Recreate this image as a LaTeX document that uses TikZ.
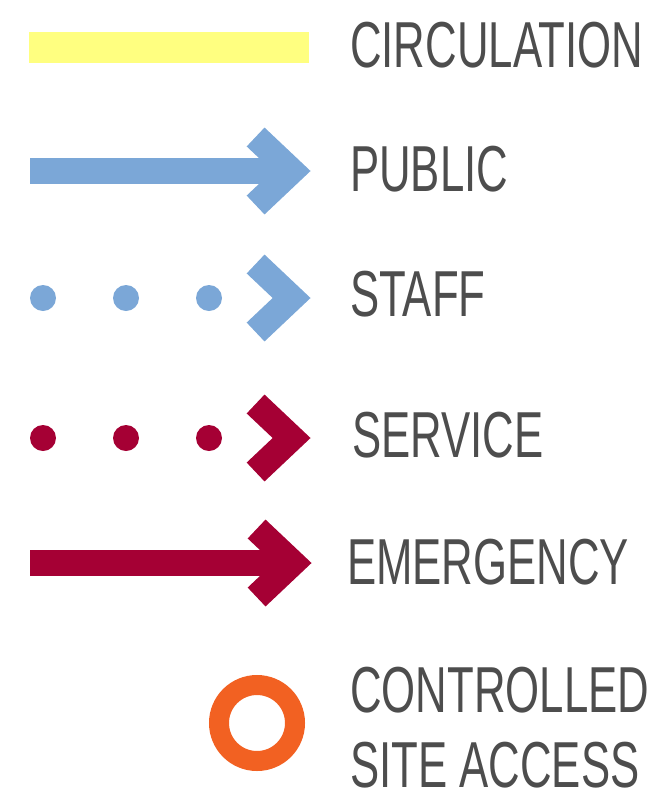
\documentclass[tikz,border=0pt]{standalone}
\usepackage{fontspec}
\setmainfont{Liberation Sans}[FakeStretch=0.673]
\definecolor{pubblue}{RGB}{123,167,215}
\definecolor{servred}{RGB}{165,0,52}
\definecolor{circyellow}{RGB}{255,255,128}
\definecolor{accessorange}{RGB}{242,97,34}
\definecolor{labelgray}{RGB}{77,77,77}

\begin{document}
\begin{tikzpicture}[x=1pt, y=-1pt,
    legendtext/.style={anchor=base west, inner sep=0pt, text=labelgray,
        font=\fontsize{65}{65}\selectfont},
    shaft/.style={line width=26pt},
    chevron/.style={line width=26pt, line join=miter, miter limit=10},
    dot/.style={radius=13pt}]

    % Marco
    \useasboundingbox (0,0) rectangle (661,804);

    % Circulacion
    \coordinate (circstart) at (29,47.5);
    \coordinate (circend) at (309,47.5);
    \draw[circyellow, line width=31.5pt] (circstart) -- (circend);
    \node[legendtext] (circlabel) at (350,67) {CIRCULATION};

    % Publico
    \coordinate (pubstart) at (30,171);
    \coordinate (pubtip) at (291.6,171);
    \draw[shaft, pubblue] (pubstart) -- ([xshift=-10pt]pubtip);
    \draw[chevron, pubblue] ([shift={(-36,-34)}]pubtip) -- (pubtip) -- ([shift={(-36,34)}]pubtip);
    \node[legendtext] (publabel) at (350,191) {PUBLIC};

    % Personal
    \coordinate (stafftip) at (291.6,298);
    \foreach \x in {43, 126, 209} {
        \fill[pubblue] (\x,298) circle[dot];
    }
    \draw[chevron, pubblue] ([shift={(-36,-34)}]stafftip) -- (stafftip) -- ([shift={(-36,34)}]stafftip);
    \node[legendtext] (stafflabel) at (350,316) {STAFF};

    % Servicio
    \coordinate (servtip) at (291.6,438);
    \foreach \x in {43, 126, 209} {
        \fill[servred] (\x,438) circle[dot];
    }
    \draw[chevron, servred] ([shift={(-36,-34)}]servtip) -- (servtip) -- ([shift={(-36,34)}]servtip);
    \node[legendtext] (servlabel) at (352,457) {SERVICE};

    % Emergencia
    \coordinate (emerstart) at (30,563);
    \coordinate (emertip) at (292.6,563);
    \draw[shaft, servred] (emerstart) -- ([xshift=-10pt]emertip);
    \draw[chevron, servred] ([shift={(-36,-34)}]emertip) -- (emertip) -- ([shift={(-36,34)}]emertip);
    \node[legendtext] (emerlabel) at (347,584) {EMERGENCY};

    % Acceso controlado
    \draw[accessorange, line width=20pt] (257,723) circle[radius=38pt];
    \node[legendtext] (acclabel) at (350,712) {CONTROLLED};
    \node[legendtext] (sitelabel) at (350,787) {SITE ACCESS};
\end{tikzpicture}
\end{document}
